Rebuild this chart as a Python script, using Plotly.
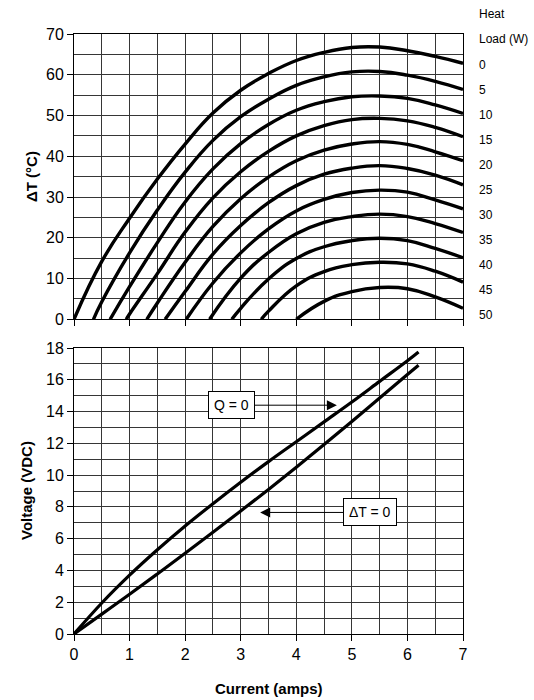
import plotly.graph_objects as go

# ---------------- data ----------------
heat_loads = [0, 5, 10, 15, 20, 25, 30, 35, 40, 45, 50]

i_q0 = [0, 0.5, 1, 1.5, 2, 2.5, 3, 3.5, 4, 4.5, 5, 5.5, 6, 6.5, 7]
dt_q0 = [0, 14.2, 24.8, 34.4, 43.0, 50.6, 56.2, 60.3, 63.5, 65.5, 66.7, 66.8, 65.9, 64.5, 62.8]

i_q5 = [0.35, 0.5, 1, 1.5, 2, 2.5, 3, 3.5, 4, 4.5, 5, 5.5, 6, 6.5, 7]
dt_q5 = [0, 4.3, 16.3, 26.8, 36.1, 43.9, 49.7, 54.0, 57.4, 59.5, 60.7, 60.8, 59.9, 58.4, 56.4]

i_q10 = [0.65, 1, 1.5, 2, 2.5, 3, 3.5, 4, 4.5, 5, 5.5, 6, 6.5, 7]
dt_q10 = [0, 8.0, 18.8, 28.8, 36.9, 43.1, 47.8, 51.3, 53.4, 54.6, 54.8, 54.2, 52.6, 50.5]

i_q15 = [0.94, 1, 1.5, 2, 2.5, 3, 3.5, 4, 4.5, 5, 5.5, 6, 6.5, 7]
dt_q15 = [0, 1.3, 11.2, 21.4, 29.8, 36.2, 41.2, 45.0, 47.5, 49.0, 49.3, 48.7, 47.1, 44.8]

i_q20 = [1.31, 1.5, 2, 2.5, 3, 3.5, 4, 4.5, 5, 5.5, 6, 6.5, 7]
dt_q20 = [0, 4.0, 14.0, 22.8, 29.6, 34.9, 38.9, 41.5, 43.0, 43.6, 42.9, 41.1, 38.9]

i_q25 = [1.64, 2, 2.5, 3, 3.5, 4, 4.5, 5, 5.5, 6, 6.5, 7]
dt_q25 = [0, 6.8, 16.0, 23.0, 28.6, 32.8, 35.6, 37.1, 37.7, 37.0, 35.4, 33.0]

i_q30 = [2.02, 2.5, 3, 3.5, 4, 4.5, 5, 5.5, 6, 6.5, 7]
dt_q30 = [0, 8.9, 16.3, 22.2, 26.6, 29.4, 31.1, 31.7, 31.2, 29.3, 27.1]

i_q35 = [2.44, 3, 3.5, 4, 4.5, 5, 5.5, 6, 6.5, 7]
dt_q35 = [0, 10.1, 16.4, 21.0, 23.8, 25.2, 25.8, 25.2, 23.5, 21.3]

i_q40 = [2.84, 3, 3.5, 4, 4.5, 5, 5.5, 6, 6.5, 7]
dt_q40 = [0, 2.7, 9.9, 14.9, 17.8, 19.3, 19.9, 19.3, 17.4, 15.1]

i_q45 = [3.37, 3.5, 4, 4.5, 5, 5.5, 6, 6.5, 7]
dt_q45 = [0, 2.0, 8.2, 11.7, 13.4, 14.0, 13.6, 11.8, 9.1]

i_q50 = [4.0, 4.5, 5, 5.5, 6, 6.5, 7]
dt_q50 = [0, 4.4, 6.8, 7.8, 7.5, 5.5, 2.7]

# voltage curves
i_v = [0, 0.5, 1, 1.5, 2, 2.5, 3, 3.5, 4, 4.5, 5, 5.5, 6, 6.2]
v_q0 = [0, 1.95, 3.7, 5.3, 6.8, 8.2, 9.55, 10.85, 12.1, 13.35, 14.6, 15.9, 17.2, 17.75]
v_dt0 = [0, 1.25, 2.5, 3.78, 5.08, 6.4, 7.74, 9.1, 10.5, 11.93, 13.38, 14.85, 16.33, 16.92]

x_ticks = [0, 1, 2, 3, 4, 5, 6, 7]

curves_i = [i_q0, i_q5, i_q10, i_q15, i_q20, i_q25, i_q30, i_q35, i_q40, i_q45, i_q50]
curves_dt = [dt_q0, dt_q5, dt_q10, dt_q15, dt_q20, dt_q25, dt_q30, dt_q35, dt_q40, dt_q45, dt_q50]

# ---------------- figure ----------------
FONT = "Liberation Sans, Arial, sans-serif"
GRID = "#363636"

fig = go.Figure()
for q, xs, ys in zip(heat_loads, curves_i, curves_dt):
    fig.add_trace(go.Scatter(x=xs, y=ys, mode="lines", name=f"{q} W",
                             line=dict(color="black", width=3.4, shape="spline", smoothing=1.3),
                             xaxis="x", yaxis="y", showlegend=False, hoverinfo="skip"))

for vs in (v_q0, v_dt0):
    fig.add_trace(go.Scatter(x=i_v, y=vs, mode="lines",
                             line=dict(color="black", width=3.2, shape="spline", smoothing=1.0),
                             xaxis="x2", yaxis="y2", showlegend=False, hoverinfo="skip"))

common_x = dict(range=[0, 7], tickvals=x_ticks, ticks="outside", ticklen=6, tickcolor="black",
                showgrid=True, gridcolor=GRID, gridwidth=1, zeroline=False,
                showline=True, linecolor="black", linewidth=1, mirror=True,
                minor=dict(dtick=0.5, showgrid=True, gridcolor=GRID, gridwidth=1, ticks=""),
                tickfont=dict(family=FONT, size=16, color="black"), fixedrange=True)

top_dom = [(634 - 319.3) / 600, 1.0]
bot_dom = [0.0, (634 - 348) / 600]

fig.update_layout(
    width=534, height=700,
    margin=dict(l=74, r=71, t=34, b=66),
    paper_bgcolor="white", plot_bgcolor="white",
    font=dict(family=FONT, color="black"),
    xaxis=dict(common_x, anchor="y", showticklabels=False),
    yaxis=dict(domain=top_dom, range=[0, 70], dtick=10, ticks="outside", ticklen=6, tickcolor="black",
               showgrid=True, gridcolor=GRID, zeroline=False,
               showline=True, linecolor="black", linewidth=1, mirror=True,
               minor=dict(dtick=5, showgrid=True, gridcolor=GRID, ticks=""),
               tickfont=dict(family=FONT, size=16, color="black"), fixedrange=True),
    xaxis2=dict(common_x, anchor="y2"),
    yaxis2=dict(domain=bot_dom, range=[0, 18], dtick=2, ticks="outside", ticklen=6, tickcolor="black",
                showgrid=True, gridcolor=GRID, zeroline=False,
                showline=True, linecolor="black", linewidth=1, mirror=True,
                minor=dict(dtick=1, showgrid=True, gridcolor=GRID, ticks=""),
                tickfont=dict(family=FONT, size=16, color="black"), fixedrange=True),
)

ann = []
# axis titles
ann.append(dict(text="<b>ΔT (°C)</b>", xref="paper", yref="paper", x=(32 - 74) / 389, y=(634 - 177) / 600,
                textangle=-90, showarrow=False, font=dict(size=15, family=FONT), xanchor="center", yanchor="middle"))
ann.append(dict(text="<b>Voltage (VDC)</b>", xref="paper", yref="paper", x=(26 - 74) / 389, y=(634 - 491) / 600,
                textangle=-90, showarrow=False, font=dict(size=15, family=FONT), xanchor="center", yanchor="middle"))
ann.append(dict(text="<b>Current (amps)</b>", xref="paper", yref="paper", x=0.5, y=(634 - 688) / 600,
                showarrow=False, font=dict(size=15, family=FONT), xanchor="center", yanchor="middle"))

# heat-load labels on the right
lab_x = (477 - 74) / 389
ann.append(dict(text="Heat", xref="paper", yref="paper", x=lab_x, y=(634 - 14) / 600, showarrow=False,
                xanchor="left", yanchor="middle", font=dict(size=12, family=FONT)))
ann.append(dict(text="Load (W)", xref="paper", yref="paper", x=lab_x, y=(634 - 39) / 600, showarrow=False,
                xanchor="left", yanchor="middle", font=dict(size=12, family=FONT)))
for k, q in enumerate(heat_loads):
    ann.append(dict(text=str(q), xref="paper", yref="paper", x=lab_x, y=(634 - (65 + 25 * k)) / 600,
                    showarrow=False, xanchor="left", yanchor="middle", font=dict(size=12, family=FONT)))

# boxed callouts with arrows
box = dict(showarrow=True, arrowhead=2, arrowsize=2.0, arrowwidth=1, arrowcolor="black",
           bgcolor="white", bordercolor="black", borderwidth=1, borderpad=5,
           xref="x2", yref="y2", axref="x2", ayref="y2",
           font=dict(size=14, family=FONT, color="black"))
ann.append(dict(box, text="Q = 0", x=4.73, y=14.4, ax=2.84, ay=14.4))
ann.append(dict(box, text="ΔT = 0", x=3.35, y=7.65, ax=5.32, ay=7.65))

fig.update_layout(annotations=ann)
fig.write_html("out.html", config={"displayModeBar": False, "staticPlot": True},
               post_script="document.body.style.margin='0';document.body.style.padding='0';")
